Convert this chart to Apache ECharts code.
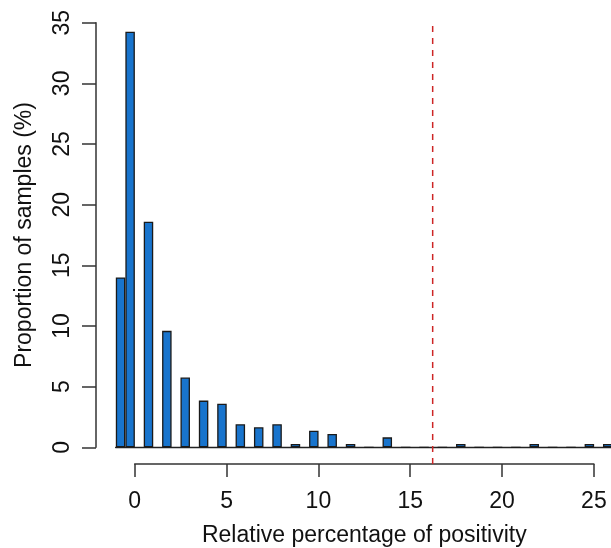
<!DOCTYPE html>
<html><head><meta charset="utf-8">
<script src="https://cdn.jsdelivr.net/npm/echarts@6/dist/echarts.min.js"></script>
<style>html,body{margin:0;padding:0;background:#fff;overflow:hidden}#c{width:631px;height:548px}</style>
</head><body><div id="c"></div>
<script>
// bin centres (relative percentage of positivity) and proportion of samples (%)
var binCenters = [-0.77, -0.25, 0.75, 1.75, 2.75, 3.75, 4.75, 5.75, 6.75, 7.75, 8.75, 9.75, 10.75, 11.75, 12.75, 13.75, 14.75, 15.75, 16.75, 17.75, 18.75, 19.75, 20.75, 21.75, 22.75, 23.75, 24.75, 25.75, 26.75];
var proportions = [14.0, 34.25, 18.6, 9.6, 5.75, 3.85, 3.6, 1.9, 1.65, 1.9, 0.27, 1.37, 1.1, 0.27, 0, 0.82, 0, 0, 0, 0.27, 0, 0, 0, 0.27, 0, 0, 0.27, 0.27, 0];
var threshold = 16.22;
var xTicks = [0, 5, 10, 15, 20, 25];
var yTicks = [0, 5, 10, 15, 20, 25, 30, 35];

var font = 'Liberation Sans, Arial, sans-serif';
var barData = binCenters.map(function (x, i) { return [x, proportions[i]]; });

var chart = echarts.init(document.getElementById('c'), null, {renderer: 'canvas'});
chart.setOption({
  animation: false,
  backgroundColor: '#fff',
  grid: [
    {left: 115.6, right: 0.3, top: 22.7, bottom: 100.7},
    {left: 134.7, width: 459.2, top: 400, bottom: 83},
    {left: 115.6, right: 0.3, top: 20, bottom: 84}
  ],
  xAxis: [
    {gridIndex: 0, type: 'value', min: -1.04, max: 27,
      axisLine: {show: true, onZero: true, lineStyle: {color: '#222', width: 1.3}},
      axisTick: {show: false}, axisLabel: {show: false}, splitLine: {show: false}},
    {gridIndex: 1, type: 'value', min: xTicks[0], max: xTicks[xTicks.length - 1], interval: 5,
      axisLine: {show: true, onZero: false, lineStyle: {color: '#333', width: 1.5}},
      axisTick: {show: true, length: 13, lineStyle: {color: '#333', width: 1.5}},
      axisLabel: {show: true, color: '#111', fontSize: 23, fontFamily: font, margin: 26},
      splitLine: {show: false},
      name: 'Relative percentage of positivity', nameLocation: 'middle', nameGap: 60,
      nameTextStyle: {color: '#111', fontSize: 23, fontFamily: font}},
    {gridIndex: 2, type: 'value', min: -1.04, max: 27, show: false}
  ],
  yAxis: [
    {gridIndex: 0, type: 'value', min: yTicks[0], max: yTicks[yTicks.length - 1], interval: 5, offset: 19.6,
      axisLine: {show: true, onZero: false, lineStyle: {color: '#333', width: 1.5}},
      axisTick: {show: true, length: 14, lineStyle: {color: '#333', width: 1.5}},
      axisLabel: {show: true, rotate: 90, color: '#111', fontSize: 23, fontFamily: font, margin: 22},
      splitLine: {show: false},
      name: 'Proportion of samples (%)', nameLocation: 'middle', nameRotate: 90, nameGap: 60,
      nameTextStyle: {color: '#111', fontSize: 23, fontFamily: font}},
    {gridIndex: 1, type: 'value', min: 0, max: 1, show: false},
    {gridIndex: 2, type: 'value', min: 0, max: 1, show: false}
  ],
  series: [
    {type: 'bar', xAxisIndex: 0, yAxisIndex: 0, data: barData, barWidth: 9.5,
      itemStyle: {color: '#1874CD', borderColor: '#1a1a1a', borderWidth: 1.3}},
    {type: 'line', xAxisIndex: 2, yAxisIndex: 2, data: [[threshold, 0], [threshold, 1]],
      symbol: 'none', lineStyle: {color: '#CD2626', width: 1.5, type: [6, 6]}}
  ]
});
</script></body></html>
